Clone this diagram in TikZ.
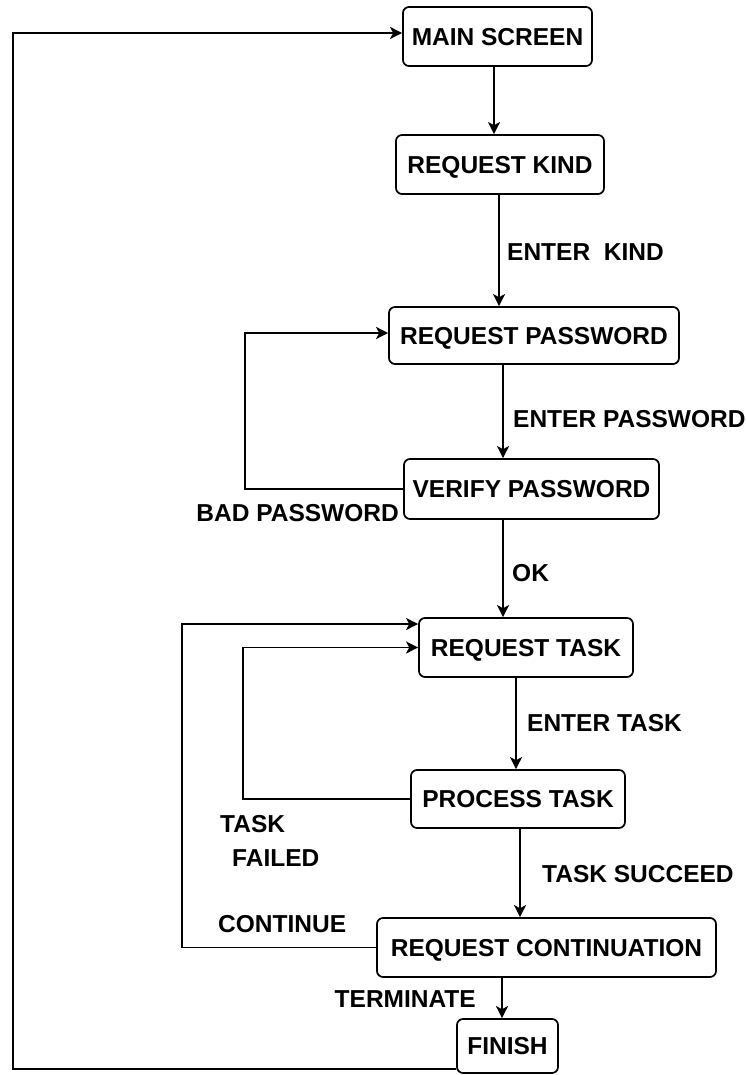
\documentclass[tikz,border=0pt]{standalone}
\usepackage{fontspec}
\setmainfont{Liberation Sans}
\usetikzlibrary{arrows.meta}
\begin{document}
\begin{tikzpicture}[x=1pt,y=-1pt,
  every node/.style={font=\fontsize{24.5}{29}\selectfont\bfseries, text height=17.5pt, text depth=0pt},
  statebox/.style={draw, line width=1.7pt, rounded corners=6pt, inner sep=0pt, align=center},
  lbl/.style={inner sep=0pt},
  arr/.style={line width=1.7pt, -{Stealth[length=12pt,width=12pt,inset=3pt]}},
  ln/.style={line width=1.7pt}]
\useasboundingbox (0,0) rectangle (746,1075);
% states
\node[statebox, minimum width=189pt, minimum height=59pt] (main) at (497.5,36.5) {MAIN SCREEN};
\node[statebox, minimum width=208pt, minimum height=59pt] (kind) at (500,164.5) {REQUEST KIND};
\node[statebox, minimum width=290pt, minimum height=57pt] (pwd) at (534,335.5) {REQUEST PASSWORD};
\node[statebox, minimum width=255pt, minimum height=60pt] (ver) at (531.5,489) {VERIFY PASSWORD};
\node[statebox, minimum width=214pt, minimum height=59pt] (task) at (526,647.5) {REQUEST TASK};
\node[statebox, minimum width=214pt, minimum height=58pt] (proc) at (518,799) {PROCESS TASK};
\node[statebox, minimum width=339pt, minimum height=59pt] (cont) at (546.5,947.5) {REQUEST CONTINUATION};
\node[statebox, minimum width=101pt, minimum height=54pt] (fin) at (507.5,1046) {FINISH};
% labels
\node[lbl, anchor=west] (lkind) at (507,252) {ENTER\ \ KIND};
\node[lbl, anchor=west] (lpwd) at (513,419) {ENTER PASSWORD};
\node[lbl, anchor=east] (lbad) at (399,513) {BAD PASSWORD};
\node[lbl, anchor=west] (lok) at (512,573) {OK};
\node[lbl, anchor=west] (ltask) at (527,723) {ENTER TASK};
\node[lbl, anchor=west] (lfail1) at (220,824) {TASK};
\node[lbl, anchor=west] (lfail2) at (232,858) {FAILED};
\node[lbl, anchor=west] (lsucc) at (542,874) {TASK SUCCEED};
\node[lbl, anchor=west] (lcont) at (218,924) {CONTINUE};
\node[lbl, anchor=east] (lterm) at (476,999) {TERMINATE};
% forward connectors
\draw[arr] ([xshift=-3.5pt]main.south) -- ([xshift=-3.5pt]main.south |- kind.north);
\draw[arr] ([xshift=-1pt]kind.south) -- ([xshift=-1pt]kind.south |- pwd.north);
\draw[arr] ([xshift=-31pt]pwd.south) -- ([xshift=-31pt]pwd.south |- ver.north);
\draw[arr] ([xshift=-28.5pt]ver.south) -- ([xshift=-28.5pt]ver.south |- task.north);
\draw[arr] ([xshift=-10pt]task.south) -- ([xshift=-10pt]task.south |- proc.north);
\draw[arr] ([xshift=2pt]proc.south) -- ([xshift=2pt]proc.south |- cont.north);
\draw[arr] ([xshift=-5.5pt]fin.north |- cont.south) -- ([xshift=-5.5pt]fin.north);
% loops
\draw[arr] (ver.west) -- ++(-158,0) |- ([yshift=2.5pt]pwd.west);
\draw[arr] (proc.west) -- ++(-167,0) |- (task.west);
\draw[arr] (cont.west) -- ++(-194,0) |- ([yshift=23.5pt]task.west);
\draw[arr] ([yshift=-23pt]fin.west) -- ++(-443,0) |- ([yshift=3.5pt]main.west);
\end{tikzpicture}
\end{document}
